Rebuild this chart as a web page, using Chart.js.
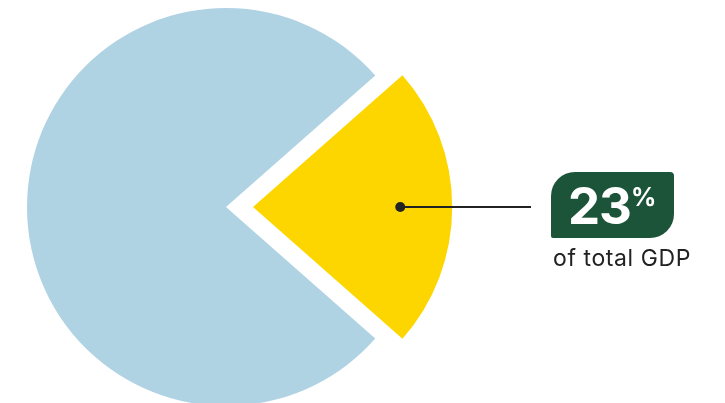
<!DOCTYPE html>
<html>
<head>
<meta charset="utf-8">
<script src="https://cdn.jsdelivr.net/npm/chart.js@4/dist/chart.umd.min.js"></script>
<style>
  html, body { margin: 0; padding: 0; background: #fff; overflow: hidden; }
  body { width: 725px; height: 403px; position: relative; font-family: Inter, "Noto Sans", sans-serif; }
  #wrap { position: absolute; left: 0; top: 0; width: 725px; height: 414px; }
  #badge {
    position: absolute; left: 551px; top: 172px; width: 123px; height: 66px;
    background: #1b5438; color: #fff;
    border-radius: 24px 4px 24px 2px;
  }
  #badge .num { position: absolute; left: 17px; top: 4px; font-size: 51px; font-weight: 700; line-height: 60px; letter-spacing: -1px; }
  #badge .pct { position: absolute; left: 80px; top: 11px; font-size: 25px; font-weight: 700; line-height: 28px; }
  #caption { position: absolute; left: 553px; top: 243px; font-size: 23px; color: #222; line-height: 30px; letter-spacing: 0.6px; }
</style>
</head>
<body>
<div id="wrap"><canvas id="gdp-chart"></canvas></div>
<div id="badge"><span class="num">23</span><span class="pct">%</span></div>
<div id="caption">of total GDP</div>
<script>
'use strict';

const labels = [ 'Share', 'Rest', ];
const values = [ 23, 77, ];
const sliceColors = [ '#fdd600', '#b0d3e4', ];
const slicePush = [ 27, 0, ]; // how far each slice is pulled out, px

// start angle so the highlighted slice sits centred on 3 o'clock
const startRotation = 90 - values[0] * 3.6 / 2;

// dot + leader line from the highlighted slice to the badge
const leaderLine = {
  id: 'leaderLine',
  afterDatasetsDraw(chart) {
    let arc = chart.getDatasetMeta(0).data[0];
    let mid = (arc.startAngle + arc.endAngle) / 2;
    let r = slicePush[0] + arc.outerRadius * 0.74;
    let x = arc.x + Math.cos(mid) * r;
    let y = arc.y + Math.sin(mid) * r;
    let ctx = chart.ctx;
    ctx.save();
    ctx.strokeStyle = '#222';
    ctx.lineWidth = 2;
    ctx.beginPath();
    ctx.moveTo(x, y);
    ctx.lineTo(531, y);
    ctx.stroke();
    ctx.fillStyle = '#222';
    ctx.beginPath();
    ctx.arc(x, y, 5, 0, Math.PI * 2);
    ctx.fill();
    ctx.restore();
  },
};

let data = {
  labels,
  datasets: [{
    data: values,
    backgroundColor: sliceColors,
    // chart.js v4 moves an arc by offset / 4
    offset: slicePush.map(v => v * 4),
    borderWidth: 0,
    hoverOffset: 0,
  }],
};

let options = {
  responsive: true,
  maintainAspectRatio: false,
  animation: false,
  rotation: startRotation,
  radius: 199,
  layout: {
    padding: { left: 0, right: 273, top: 0, bottom: 0, },
  },
  plugins: {
    legend: { display: false, },
    tooltip: { enabled: false, },
  },
  events: [],
};

new Chart(document.getElementById('gdp-chart'), {
  type: 'pie',
  data: data,
  options: options,
  plugins: [ leaderLine, ],
});
</script>
</body>
</html>
